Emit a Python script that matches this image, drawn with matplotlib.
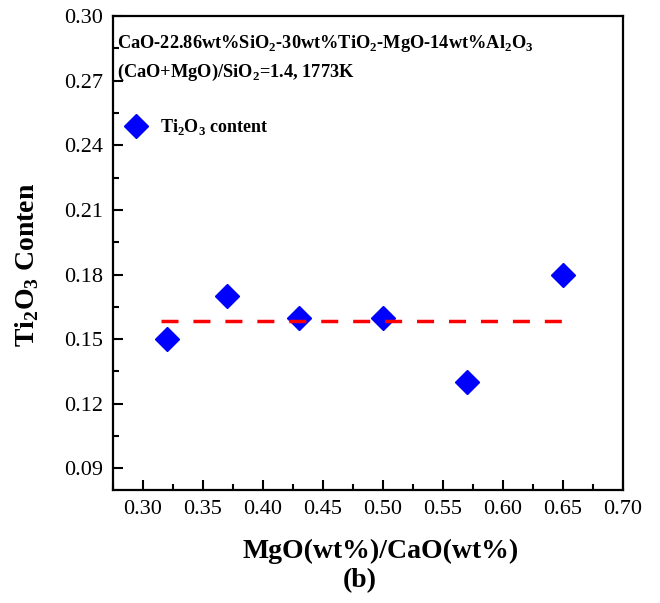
import matplotlib
matplotlib.use('Agg')
import matplotlib.pyplot as plt
from matplotlib.ticker import MultipleLocator

# dati
ratio = [0.32, 0.37, 0.43, 0.50, 0.57, 0.65]
ti2o3 = [0.15, 0.17, 0.16, 0.16, 0.13, 0.18]
mean_x = [0.315, 0.65]
x_ticks = [0.30, 0.35, 0.40, 0.45, 0.50, 0.55, 0.60, 0.65, 0.70]
y_ticks = [0.09, 0.12, 0.15, 0.18, 0.21, 0.24, 0.27, 0.30]

plt.rcParams['font.family'] = ['Liberation Serif', 'DejaVu Serif']
plt.rcParams['mathtext.fontset'] = 'custom'
plt.rcParams['mathtext.rm'] = 'Liberation Serif'
plt.rcParams['mathtext.bf'] = 'Liberation Serif:bold'

W, H = 660, 603
fig = plt.figure(figsize=(W / 100, H / 100), dpi=100)
ax = fig.add_axes([113 / W, 1 - 490 / H, 510 / W, 474 / H])

ax.plot(ratio, ti2o3, linestyle='none', marker='D', markersize=12.5,
        color='#0000ff', label=r'Ti$_\mathbf{2}$O$_\mathbf{3}$ content')

# linea media tratteggiata
mean_val = sum(ti2o3) / len(ti2o3)
ax.plot(mean_x, [mean_val, mean_val], color='#ff0000', linewidth=2.5,
        linestyle='--', dashes=(4.9, 4.3))

ax.set_xlim(0.275, 0.70)
ax.set_ylim(0.08, 0.30)
ax.set_xticks(x_ticks)
ax.set_yticks(y_ticks)
ax.set_xticklabels([f'{v:.2f}' for v in x_ticks])
ax.set_yticklabels([f'{v:.2f}' for v in y_ticks])
ax.xaxis.set_minor_locator(MultipleLocator(0.025))
ax.yaxis.set_minor_locator(MultipleLocator(0.015))
ax.tick_params(which='both', direction='in', top=False, right=False,
               width=1.5, labelsize=16)
ax.tick_params(which='major', length=7)
ax.tick_params(which='minor', length=4)
ax.tick_params(axis='x', pad=7)
ax.tick_params(axis='y', pad=7)
for s in ax.spines.values():
    s.set_linewidth(1.6)

# etichette assi posizionate a mano
fig.text(381 / W, 1 - 551 / H, 'MgO(wt%)/CaO(wt%)', fontsize=20,
         fontweight='bold', ha='center', va='center')
fig.text(27 / W, 1 - 265 / H, r'Ti$_\mathbf{2}$O$_\mathbf{3}$ Conten',
         fontsize=20, fontweight='bold', ha='center', va='center',
         rotation=90)
fig.text(360 / W, 1 - 581 / H, '(b)', fontsize=20, fontweight='bold',
         ha='center', va='center')

ax.text(0.008, 0.943,
        r'CaO-22.86wt%SiO$_\mathbf{2}$-30wt%TiO$_\mathbf{2}$-MgO-14wt%Al$_\mathbf{2}$O$_\mathbf{3}$',
        transform=ax.transAxes, fontsize=13.2, fontweight='bold', va='center')
ax.text(0.008, 0.88, r'(CaO+MgO)/SiO$_\mathbf{2}$=1.4, 1773K',
        transform=ax.transAxes, fontsize=13.2, fontweight='bold', va='center')

ax.legend(loc='upper left', bbox_to_anchor=(-0.014, 0.821), frameon=False,
          prop={'size': 13, 'weight': 'bold'}, handletextpad=0.6,
          handlelength=1.5)

plt.savefig('out.png', dpi=100)
plt.close()
